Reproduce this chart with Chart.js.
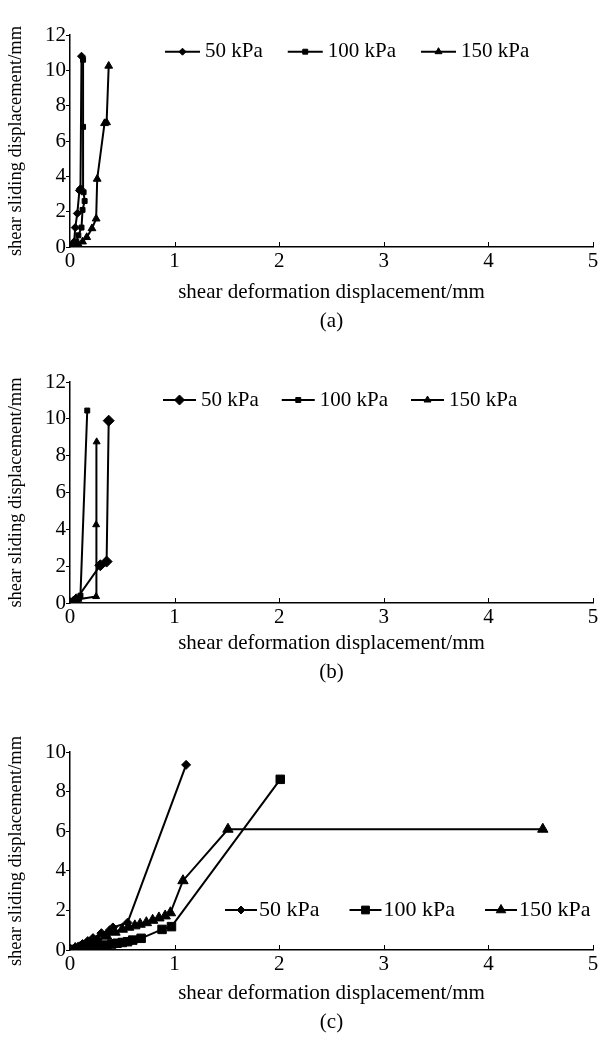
<!DOCTYPE html>
<html><head><meta charset="utf-8">
<script src="https://cdn.jsdelivr.net/npm/chart.js@4.4.1/dist/chart.umd.min.js"></script>
<style>
html,body{margin:0;padding:0;background:#fff;}
body{width:600px;height:1041px;position:relative;overflow:hidden;}
.panel{position:absolute;left:0;width:600px;}
</style></head><body>
<div class="panel" style="top:0;height:345px"><canvas id="ca"></canvas></div>
<div class="panel" style="top:345px;height:350px"><canvas id="cb"></canvas></div>
<div class="panel" style="top:695px;height:346px"><canvas id="cc"></canvas></div>
<script>
// ---- data ----
const seriesLabels = ['50 kPa', '100 kPa', '150 kPa'];
const xTicks = [0, 1, 2, 3, 4, 5];
const yTicksAB = [0, 2, 4, 6, 8, 10, 12];
const yTicksC = [0, 2, 4, 6, 8, 10];
const captions = ['(a)', '(b)', '(c)'];
const xTitle = 'shear deformation displacement/mm';
const yTitle = 'shear sliding displacement/mm';

// panel (a)
const a50x  = [0, 0.02, 0.04, 0.05, 0.07, 0.09, 0.10, 0.11];
const a50y  = [0, 0.1, 0.3, 1.1, 1.9, 3.2, 3.3, 10.8];
const a100x = [0, 0.03, 0.06, 0.08, 0.11, 0.12, 0.14, 0.13, 0.125, 0.125];
const a100y = [0, 0.05, 0.3, 0.66, 1.1, 2.1, 2.6, 3.1, 6.8, 10.6];
const a150x = [0, 0.04, 0.08, 0.12, 0.16, 0.21, 0.25, 0.26, 0.33, 0.35, 0.37];
const a150y = [0, 0.05, 0.15, 0.3, 0.55, 1.05, 1.6, 3.85, 7.0, 7.05, 10.25];

// panel (b)
const b50x  = [0, 0.03, 0.06, 0.29, 0.35, 0.37];
const b50y  = [0, 0.05, 0.2, 2.05, 2.25, 9.9];
const b100x = [0, 0.03, 0.10, 0.165];
const b100y = [0, 0.05, 0.4, 10.45];
const b150x = [0, 0.03, 0.08, 0.25, 0.25, 0.255];
const b150y = [0, 0.05, 0.2, 0.35, 4.25, 8.75];

// panel (c)
const c50x  = [0, 0.04, 0.08, 0.12, 0.17, 0.22, 0.30, 0.38, 0.41, 0.55, 1.11];
const c50y  = [0, 0.08, 0.18, 0.3, 0.45, 0.6, 0.85, 1.0, 1.14, 1.38, 9.35];
const c100x = [0, 0.05, 0.1, 0.15, 0.2, 0.25, 0.3, 0.35, 0.4, 0.45, 0.5, 0.55, 0.6, 0.68, 0.88, 0.97, 2.01];
const c100y = [0, 0.03, 0.06, 0.09, 0.12, 0.16, 0.2, 0.25, 0.3, 0.34, 0.38, 0.42, 0.5, 0.59, 1.04, 1.18, 8.62];
const c150x = [0, 0.05, 0.1, 0.15, 0.2, 0.27, 0.35, 0.43, 0.5, 0.56, 0.62, 0.67, 0.73, 0.79, 0.85, 0.91, 0.96, 1.08, 1.51, 4.52];
const c150y = [0, 0.08, 0.15, 0.25, 0.35, 0.5, 0.7, 0.9, 1.05, 1.15, 1.22, 1.3, 1.38, 1.5, 1.62, 1.72, 1.88, 3.5, 6.1, 6.1];

// ---- helpers ----
const SERIF = "'Liberation Serif', 'DejaVu Serif', serif";
const pointStyles = ['rectRot', 'rect', 'triangle'];

function mk(label, xs, ys, style, r) {
  return {
    label, data: xs.map((x, i) => ({x, y: ys[i]})),
    borderColor: '#000', backgroundColor: '#000', borderWidth: 2,
    pointStyle: style, pointRadius: r, pointBorderWidth: 1,
    pointBackgroundColor: '#000', pointBorderColor: '#000',
    tension: 0, fill: false
  };
}

const inlineLegend = {
  id: 'inlineLegend',
  afterDraw(chart, args, o) {
    const ctx = chart.ctx;
    ctx.save();
    ctx.font = o.fontSize + 'px ' + SERIF;
    ctx.textBaseline = 'middle';
    ctx.textAlign = 'left';
    let x = o.x;
    chart.data.datasets.forEach((ds, i) => {
      ctx.strokeStyle = '#000'; ctx.fillStyle = '#000'; ctx.lineWidth = 2;
      ctx.beginPath(); ctx.moveTo(x, o.y); ctx.lineTo(x + o.lineLen, o.y); ctx.stroke();
      ctx.lineWidth = 1;
      Chart.helpers.drawPoint(ctx, {pointStyle: ds.pointStyle, radius: o.radii[i], borderWidth: 1, rotation: 0}, x + o.lineLen / 2, o.y);
      ctx.fillStyle = '#000';
      const tx = x + o.lineLen + o.textGap;
      ctx.fillText(ds.label, tx, o.y);
      x = tx + ctx.measureText(ds.label).width + o.itemGap;
    });
    ctx.restore();
  }
};

const inwardXTicks = {
  id: 'inwardXTicks',
  afterDraw(chart) {
    const sx = chart.scales.x, ctx = chart.ctx;
    ctx.save(); ctx.strokeStyle = '#000'; ctx.lineWidth = 1;
    sx.ticks.forEach(t => {
      const px = Math.round(sx.getPixelForValue(t.value)) + 0.5;
      ctx.beginPath(); ctx.moveTo(px, sx.top); ctx.lineTo(px, sx.top - 5); ctx.stroke();
    });
    ctx.restore();
  }
};

function build(id, datasets, yTicks, caption, geo, legend) {
  new Chart(document.getElementById(id), {
    type: 'line',
    data: { datasets },
    plugins: [inlineLegend, inwardXTicks],
    options: {
      responsive: true, maintainAspectRatio: false, animation: false,
      layout: { padding: { top: geo.top, right: 7, bottom: 0, left: 0 } },
      plugins: { legend: { display: false }, tooltip: { enabled: false }, inlineLegend: legend },
      scales: {
        x: {
          type: 'linear', min: xTicks[0], max: xTicks[xTicks.length - 1],
          afterBuildTicks: s => { s.ticks = xTicks.map(v => ({value: v})); },
          afterFit: s => { s.height = geo.xh; },
          grid: { display: false },
          border: { display: true, color: '#000', width: 1.5 },
          ticks: { color: '#000', padding: -6, maxRotation: 0, font: { family: SERIF, size: 21 } },
          title: { display: true, text: [xTitle, caption], color: '#000',
                   font: { family: SERIF, size: 21, lineHeight: '29px' },
                   padding: { top: 0, bottom: geo.tpb } }
        },
        y: {
          type: 'linear', min: yTicks[0], max: yTicks[yTicks.length - 1],
          afterBuildTicks: s => { s.ticks = yTicks.map(v => ({value: v})); },
          afterFit: s => { s.width = 70; },
          grid: { display: true, drawOnChartArea: false, drawTicks: true, tickLength: 4, color: '#000', lineWidth: 1 },
          border: { display: true, color: '#000', width: 1.5 },
          ticks: { color: '#000', padding: 0, font: { family: SERIF, size: 21 } },
          title: { display: true, text: yTitle, color: '#000',
                   font: { family: SERIF, size: 18.5 }, padding: { top: 5, bottom: 0 } }
        }
      }
    }
  });
}

build('ca', [
  mk(seriesLabels[0], a50x, a50y, pointStyles[0], 4),
  mk(seriesLabels[1], a100x, a100y, pointStyles[1], 3.5),
  mk(seriesLabels[2], a150x, a150y, pointStyles[2], 4.5)
], yTicksAB, captions[0], {top: 35, xh: 98, tpb: 9.5},
  {x: 165, y: 51.7, lineLen: 35, textGap: 5, itemGap: 25, fontSize: 21, radii: [3.5, 3.5, 4]});

build('cb', [
  mk(seriesLabels[0], b50x, b50y, pointStyles[0], 5.5),
  mk(seriesLabels[1], b100x, b100y, pointStyles[1], 3.5),
  mk(seriesLabels[2], b150x, b150y, pointStyles[2], 4)
], yTicksAB, captions[1], {top: 37, xh: 92, tpb: 8.5},
  {x: 163, y: 55, lineLen: 33, textGap: 5, itemGap: 23, fontSize: 21, radii: [5, 3.5, 4]});

build('cc', [
  mk(seriesLabels[0], c50x, c50y, pointStyles[0], 4.5),
  mk(seriesLabels[1], c100x, c100y, pointStyles[1], 6),
  mk(seriesLabels[2], c150x, c150y, pointStyles[2], 6)
], yTicksC, captions[2], {top: 57, xh: 91, tpb: 4.5},
  {x: 225, y: 215, lineLen: 32, textGap: 2, itemGap: 30, fontSize: 22, radii: [4, 5.5, 5.5]});
</script>
</body></html>
